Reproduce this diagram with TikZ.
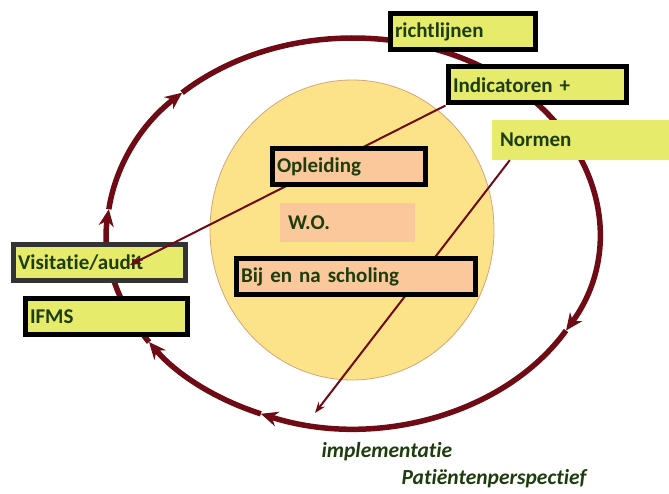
\documentclass[tikz,border=0pt]{standalone}
\usepackage{fontspec}
\setmainfont{Carlito}[Ligatures=NoCommon]
\usetikzlibrary{arrows.meta,calc}

\definecolor{ringred}{HTML}{6E0B14}
\definecolor{lime}{HTML}{E6EB6B}
\definecolor{peach}{HTML}{FBC89B}
\definecolor{sun}{HTML}{FCE38A}
\definecolor{txtgreen}{HTML}{1E3D0E}

\tikzset{
  ring/.style={ringred, line width=5.5pt},
  ringtip/.style={-{Stealth[length=17pt,width=15pt]}},
  link/.style={ringred, line width=2pt, -{Stealth[length=11pt,width=8pt]}},
  box/.style={rectangle, draw=black, line width=5pt, fill=#1,
    minimum height=36pt, inner xsep=5pt, inner ysep=2pt, align=left,
    text=txtgreen, font=\fontsize{21}{24}\selectfont\bfseries},
  flat/.style={rectangle, fill=#1, minimum height=40pt,
    inner xsep=8pt, inner ysep=2pt, align=left,
    text=txtgreen, font=\fontsize{21}{24}\selectfont\bfseries},
  note/.style={text=txtgreen, font=\fontsize{21.5}{24}\selectfont\bfseries\itshape}
}

\begin{document}
\begin{tikzpicture}[x=1pt, y=1pt]
    \useasboundingbox (0,0) rectangle (669,493);
    \coordinate (mid) at (353,260);
    \filldraw[fill=sun, draw=brown!70, line width=0.8pt]
      (352,263) ellipse [x radius=142, y radius=150];
    % cycle, clockwise
    \draw[ring, ringtip] (mid) ++(134:246 and 195)
      arc [start angle=134, end angle=-30, x radius=246, y radius=195];
    \draw[ring, ringtip] (mid) ++(-30:246 and 195)
      arc [start angle=-30, end angle=-112, x radius=246, y radius=195];
    \draw[ring, ringtip] (mid) ++(-112:246 and 195)
      arc [start angle=-112, end angle=-146, x radius=246, y radius=195];
    \draw[ring, ringtip] (mid) ++(-146:246 and 195)
      arc [start angle=-146, end angle=-187, x radius=246, y radius=195];
    \draw[ring, ringtip] (mid) ++(-187:246 and 195)
      arc [start angle=-187, end angle=-226, x radius=246, y radius=195];
    \node[box=lime, draw=black!80, text width=162pt] at (99,230.5) (visit)
      {Visitatie/audit};
    \node[box=lime, text width=152pt] at (106,176.5) (ifms)
      {IFMS};
    \node[box=lime, text width=135pt] at (462.5,461) (richt)
      {richtlijnen};
    \node[box=lime, text width=168pt] at (537,408) (ind)
      {Indicatoren +};
    \node[flat=lime, text width=161pt] at (580.5,353) (norm)
      {Normen};
    \coordinate (vtip) at (130,228);
    \coordinate (itip) at (315,80);
    \draw[link] (ind.south west) -- (vtip);
    \draw[link] ($(norm.south west)+(18,0)$) -- (itip);
    \node[box=peach, text width=143pt] at (348.5,326) (opl)
      {Opleiding};
    \node[flat=peach, text width=119pt, minimum height=39pt] at (347.5,270.5) (wo)
      {W.O.};
    \node[box=peach, text width=229pt] at (355.5,216) (bij)
      {Bij en na scholing};
    \node[note, anchor=west] at (318,41) (impl)
      {implementatie};
    \node[note, anchor=west] at (398,14) (pat)
      {Patiëntenperspectief};
  \end{tikzpicture}
\end{document}
